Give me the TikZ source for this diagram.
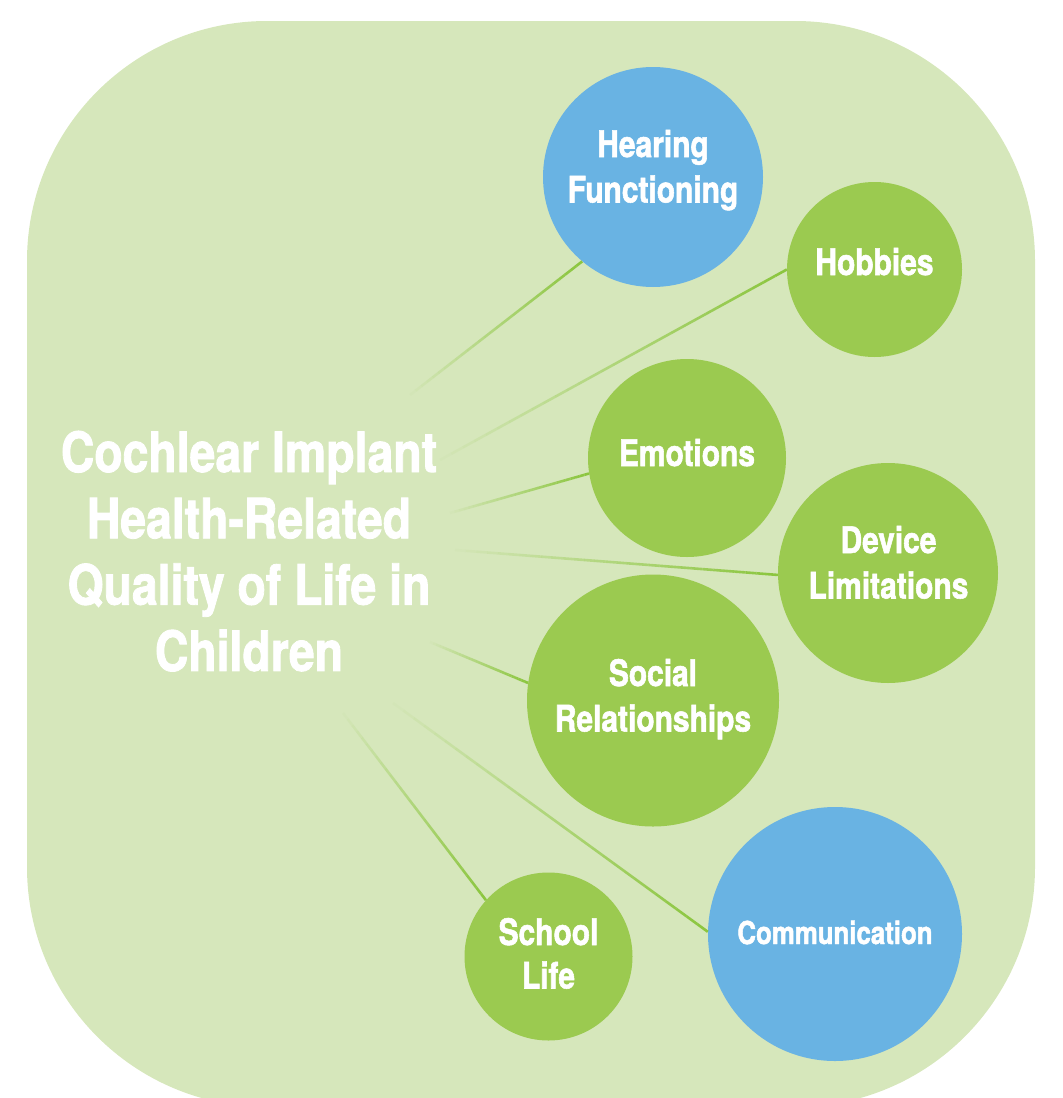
\documentclass[tikz,border=0pt]{standalone}
\usepackage{fontspec}
\setmainfont{TeX Gyre Heros}[FakeStretch=0.82, BoldFeatures={FakeBold=1.5}]
\newfontfamily\titlefont{TeX Gyre Heros}[FakeStretch=0.835, BoldFeatures={FakeBold=1.5}]
\usetikzlibrary{calc}
\definecolor{bgc}{HTML}{D6E7BB}
\definecolor{grn}{HTML}{9BCA50}
\definecolor{blu}{HTML}{69B3E3}
\definecolor{lnc}{HTML}{8CC63F}
\newcommand{\lbl}[1]{\begin{tabular}[t]{@{}c@{}}#1\end{tabular}}
\newcommand{\fadeline}[2]{%
  \foreach \k [evaluate=\k as \op using \k/30,
               evaluate=\k as \ta using (\k-1)/30,
               evaluate=\k as \tb using \k/30] in {1,...,30}{%
    \draw[lnc, line width=2.6pt, draw opacity=\op]
      ($(#1)!\ta!(#2)$) -- ($(#1)!\tb!(#2)$);
  }}
\begin{document}
\begin{tikzpicture}[x=1pt,y=-1pt,
  bubble/.style={circle,inner sep=0,minimum size=#1},
  gbub/.style={bubble=#1,fill=grn},
  bbub/.style={bubble=#1,fill=blu},
  lab/.style={anchor=base,inner sep=0,text=white,
    font=\bfseries\fontsize{36.5}{45.5}\selectfont},
]
\useasboundingbox (0,0) rectangle (1063,1098);
\clip (0,0) rectangle (1063,1098);
\fill[bgc, rounded corners=240pt] (27,21) rectangle (1035,1107);

% central title
\node[anchor=base, inner sep=0, text=white,
  font=\titlefont\bfseries\fontsize{55.5}{66.3}\selectfont] (main) at (249,472)
  {\lbl{Cochlear Implant\\Health-Related\\Quality of Life in\\Children}};

% bubbles
\node[bbub=220pt] (hear) at (653,177) {};
\node[gbub=175pt] (hob) at (874.5,269.5) {};
\node[gbub=198pt] (emo) at (687,458) {};
\node[gbub=220pt] (dev) at (888,573) {};
\node[gbub=252pt] (soc) at (653,700.5) {};
\node[bbub=254pt] (com) at (835,934) {};
\node[gbub=168pt] (sch) at (548.5,956.5) {};

% connector start points
\coordinate (s1) at (410,395);
\coordinate (s2) at (440,460);
\coordinate (s3) at (450,513);
\coordinate (s4) at (455,550);
\coordinate (s5) at (430,642);
\coordinate (s6) at (393,703);
\coordinate (s7) at (343,713);

\fadeline{s1}{hear.230}
\fadeline{s2}{hob.180}
\fadeline{s3}{emo.189}
\fadeline{s4}{dev.181}
\fadeline{s5}{soc.172}
\fadeline{s6}{com.179}
\fadeline{s7}{sch.138}

% labels
\node[lab] (hearT) at (653,157) {\lbl{Hearing\\Functioning}};
\node[lab] (hobT) at (874.5,275) {Hobbies};
\node[lab] (emoT) at (687,466) {Emotions};
\node[lab] (devT) at (888.5,553) {\lbl{Device\\Limitations}};
\node[lab] (socT) at (653,686) {\lbl{Social\\Relationships}};
\node[lab, font=\bfseries\fontsize{31.5}{38}\selectfont] (comT) at (835,944) {Communication};
\node[lab, font=\bfseries\fontsize{36.5}{43.5}\selectfont] (schT) at (548.5,945) {\lbl{School\\Life}};
\end{tikzpicture}
\end{document}
